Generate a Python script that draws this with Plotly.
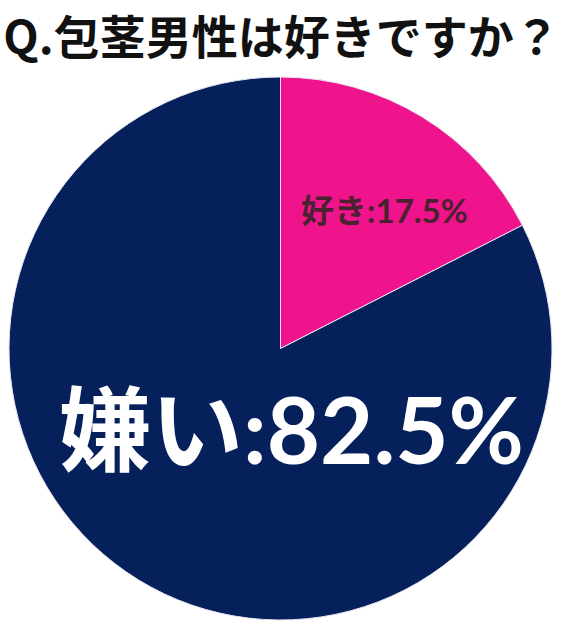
import plotly.graph_objects as go

title_text = "Q.包茎男性は好きですか？"
categories = ["好き", "嫌い"]
values = [17.5, 82.5]
colors = ["#f0148c", "#06205c"]

W, H = 563, 630

fig = go.Figure()
fig.add_trace(go.Pie(
    labels=categories,
    values=values,
    sort=False,
    direction="clockwise",
    rotation=0,
    marker=dict(colors=colors, line=dict(color="#e8e6f0", width=1)),
    textinfo="none",
    hoverinfo="label+percent",
    showlegend=False,
    domain=dict(x=[9 / W, 552 / W], y=[1 - 620 / H, 1 - 77 / H]),
))

label_fmt = "{}:{}%"
fig.add_annotation(
    text=label_fmt.format(categories[0], values[0]),
    x=384 / W, y=1 - 210 / H, xref="paper", yref="paper",
    showarrow=False, xanchor="center", yanchor="middle",
    font=dict(family="Lato, Noto Sans CJK JP", size=33, color="#4a2130", weight="bold"),
)
fig.add_annotation(
    text=label_fmt.format(categories[1], values[1]),
    x=291 / W, y=1 - 428 / H, xref="paper", yref="paper",
    showarrow=False, xanchor="center", yanchor="middle",
    font=dict(family="Lato, Noto Sans CJK JP", size=92, color="#ffffff", weight="bold"),
)

fig.update_layout(
    width=W, height=H,
    margin=dict(l=0, r=0, t=0, b=0),
    paper_bgcolor="#ffffff",
    plot_bgcolor="#ffffff",
    title=dict(
        text=title_text,
        x=0.5, xanchor="center",
        y=1 - 38 / H, yanchor="middle", yref="container",
        font=dict(family="Noto Sans CJK JP", size=46, color="#111111", weight="bold"),
    ),
)

fig.write_html("out.html", config={"displayModeBar": False},
               post_script="document.body.style.margin='0';")
